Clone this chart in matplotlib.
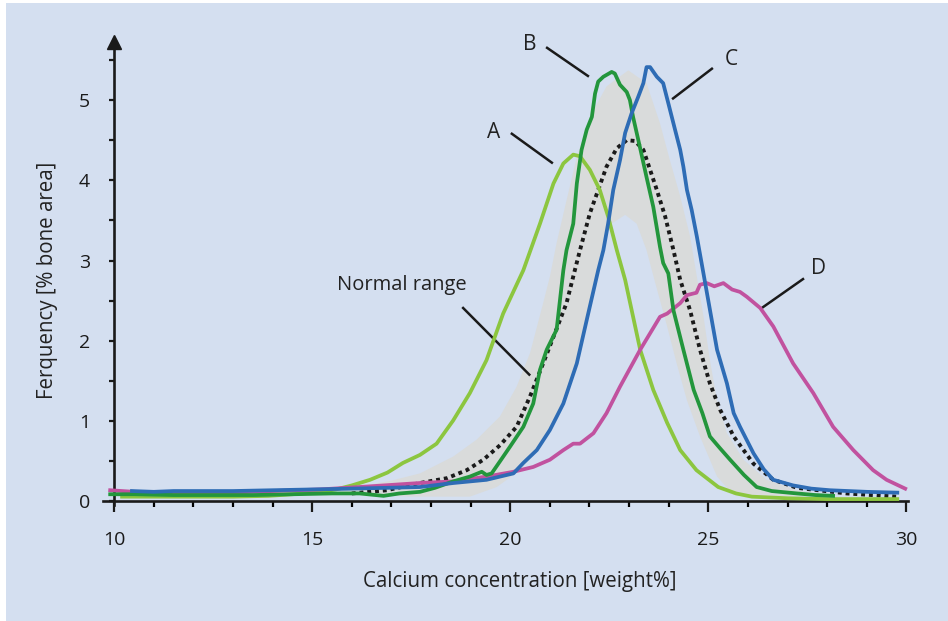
import numpy as np
import matplotlib.pyplot as plt
from matplotlib.patches import Rectangle

plt.rcParams['font.family'] = ['Open Sans', 'DejaVu Sans']

# curve A (light green)
a_x = [10.2, 11, 12, 13, 13.9, 14.5, 15.2, 15.6, 16.0, 16.46, 16.9, 17.29, 17.72, 18.14, 18.56, 18.98,
       19.4, 19.82, 20.33, 20.75, 21.09, 21.34, 21.59, 21.76, 22.01, 22.26, 22.47, 22.69, 22.9,
       23.28, 23.61, 23.96, 24.29, 24.7, 25.25, 25.7, 26.1, 27, 28, 29, 29.77]
a_y = [0.06, 0.06, 0.06, 0.06, 0.07, 0.09, 0.12, 0.15, 0.2, 0.27, 0.36, 0.48, 0.58, 0.72, 1.01, 1.35,
       1.76, 2.34, 2.88, 3.46, 3.96, 4.21, 4.32, 4.30, 4.13, 3.88, 3.55, 3.13, 2.76,
       1.89, 1.39, 0.98, 0.64, 0.39, 0.18, 0.1, 0.06, 0.04, 0.03, 0.03, 0.03]

# curve B (dark green)
b_x = [9.9, 10.5, 11.5, 12.5, 13.5, 14.5, 15.5, 16.2, 16.8, 17.2, 17.72, 18.1, 18.56, 18.98, 19.28,
       19.4, 19.53, 19.74, 19.99, 20.33, 20.58, 20.75, 20.92, 21.17, 21.34, 21.42, 21.59, 21.68,
       21.80, 21.93, 22.06, 22.14, 22.22, 22.35, 22.56, 22.64, 22.77, 22.94, 23.02, 23.1, 23.27,
       23.44, 23.61, 23.78, 23.86, 23.99, 24.12, 24.37, 24.63, 24.85, 25.04, 25.3, 25.55, 25.9,
       26.22, 26.6, 27.24, 27.7, 28.15]
b_y = [0.09, 0.09, 0.08, 0.08, 0.08, 0.09, 0.1, 0.1, 0.07, 0.1, 0.12, 0.17, 0.25, 0.31, 0.37,
       0.33, 0.35, 0.5, 0.68, 0.93, 1.22, 1.64, 1.89, 2.14, 2.88, 3.13, 3.46, 3.96,
       4.38, 4.63, 4.79, 5.08, 5.23, 5.29, 5.35, 5.33, 5.19, 5.10, 5.0, 4.79, 4.42,
       4.04, 3.67, 3.17, 2.97, 2.84, 2.38, 1.89, 1.39, 1.1, 0.81, 0.66, 0.52, 0.33,
       0.18, 0.13, 0.1, 0.08, 0.07]

# curve C (blue)
c_x = [10.45, 11, 11.5, 12, 13, 14, 15, 16, 16.88, 17.72, 18.56, 19.4, 20.08, 20.33, 20.67, 21.0,
       21.34, 21.68, 21.93, 22.22, 22.35, 22.47, 22.6, 22.77, 22.9, 23.06, 23.23, 23.36, 23.44,
       23.53, 23.7, 23.86, 23.99, 24.16, 24.29, 24.37, 24.46, 24.58, 24.71, 24.83, 25.0, 25.22,
       25.47, 25.64, 25.8, 26.14, 26.4, 26.64, 27.14, 27.6, 28.07, 29.0, 29.77]
c_y = [0.13, 0.12, 0.13, 0.13, 0.13, 0.14, 0.15, 0.16, 0.17, 0.18, 0.23, 0.27, 0.35, 0.48, 0.64, 0.89,
       1.22, 1.72, 2.26, 2.88, 3.13, 3.46, 3.88, 4.25, 4.59, 4.83, 5.04, 5.21, 5.41,
       5.41, 5.29, 5.21, 4.96, 4.63, 4.38, 4.17, 3.88, 3.63, 3.3, 2.97, 2.5, 1.89,
       1.47, 1.1, 0.93, 0.6, 0.4, 0.27, 0.2, 0.16, 0.14, 0.12, 0.11]

# curve D (magenta)
d_x = [9.9, 10.5, 11, 12, 13, 14, 15.2, 16.5, 17.72, 18.56, 19.4, 20.08, 20.58, 21.0, 21.34, 21.59,
       21.76, 22.1, 22.43, 22.77, 23.28, 23.78, 23.96, 24.29, 24.46, 24.7, 24.79, 24.96, 25.15,
       25.38, 25.6, 25.8, 25.97, 26.31, 26.64, 27.14, 27.65, 28.15, 28.66, 29.16, 29.5, 29.97]
d_y = [0.14, 0.12, 0.1, 0.1, 0.11, 0.13, 0.15, 0.19, 0.23, 0.25, 0.31, 0.37, 0.43, 0.52, 0.64, 0.72,
       0.72, 0.85, 1.1, 1.43, 1.89, 2.3, 2.34, 2.47, 2.57, 2.6, 2.7, 2.72, 2.68,
       2.72, 2.64, 2.61, 2.55, 2.41, 2.18, 1.72, 1.35, 0.93, 0.64, 0.39, 0.27, 0.16]

# mean of normal range (dotted)
m_x = [16.0, 16.88, 17.72, 18.4, 18.9, 19.32, 19.74, 20.16, 20.5, 20.83, 21.09, 21.42, 21.63, 21.76,
       22.01, 22.22, 22.43, 22.69, 22.94, 23.15, 23.36, 23.53, 23.7, 23.91, 24.12, 24.29, 24.54,
       24.79, 25.04, 25.3, 25.64, 26.14, 26.64, 27.24, 28.5, 29.77]
m_y = [0.1, 0.14, 0.23, 0.29, 0.39, 0.52, 0.70, 0.93, 1.31, 1.72, 2.05, 2.47, 2.88, 3.13,
       3.59, 3.88, 4.17, 4.40, 4.5, 4.49, 4.38, 4.13, 3.88, 3.55, 3.13, 2.76, 2.38,
       1.89, 1.47, 1.14, 0.81, 0.47, 0.27, 0.17, 0.1, 0.06]

# normal range band: outer and inner edge
band_out_x = [15.5, 16.03, 17.0, 17.72, 18.56, 19.15, 19.74, 20.16, 20.5, 20.83, 21.0, 21.17, 21.42,
              21.68, 22.01, 22.43, 22.98, 23.44, 23.78, 24.03, 24.29, 24.54, 24.71, 24.88, 25.04,
              25.22, 25.47, 25.89, 26.47, 27.24, 28.0]
band_out_y = [0.1, 0.17, 0.26, 0.35, 0.56, 0.77, 1.06, 1.43, 1.85, 2.47, 2.8, 3.22, 3.75,
              4.29, 4.79, 5.17, 5.37, 5.21, 4.71, 4.25, 3.8, 3.3, 2.8, 2.3, 1.76,
              1.26, 0.85, 0.52, 0.27, 0.14, 0.08]
band_in_x = [15.5, 17.5, 18.98, 19.66, 20.25, 20.83, 21.25, 21.68, 21.93, 22.18, 22.35, 22.56, 22.9,
             23.19, 23.44, 23.65, 23.96, 24.2, 24.46, 24.79, 25.22, 25.64, 26.5, 28.0]
band_in_y = [0.1, 0.06, 0.06, 0.18, 0.39, 0.72, 1.14, 1.64, 2.2, 2.88, 3.22, 3.46, 3.57,
             3.46, 3.13, 2.74, 2.18, 1.72, 1.26, 0.81, 0.31, 0.08, 0.05, 0.08]

bg = '#d4dff0'
ink = '#1a1a1a'
fig = plt.figure(figsize=(9.48, 6.21), dpi=100, facecolor='white')
fig.patches.append(Rectangle((6 / 948, 0), 1, 1 - 3 / 621, transform=fig.transFigure,
                             facecolor=bg, edgecolor='none', zorder=-10))
ax = fig.add_axes([0.1087, 0.186, 0.8495, 0.746])
ax.set_facecolor('none')

ax.fill(band_out_x + band_in_x[::-1], band_out_y + band_in_y[::-1],
        color='#d9dbdb', lw=0, zorder=1)
ax.plot(m_x, m_y, color=ink, lw=2.8, ls=(0, (1, 1)), zorder=3)
ax.plot(a_x, a_y, color='#8cc63f', lw=2.7, zorder=4)
ax.plot(d_x, d_y, color='#c1529f', lw=2.7, zorder=4)
ax.plot(b_x, b_y, color='#23963c', lw=2.7, zorder=5)
ax.plot(c_x, c_y, color='#2e6cb5', lw=2.7, zorder=6)

# labels with leader lines
ax.plot([20.04, 21.05], [4.58, 4.22], color=ink, lw=1.8)
ax.plot([20.93, 21.96], [5.65, 5.30], color=ink, lw=1.8)
ax.plot([25.09, 24.11], [5.39, 5.02], color=ink, lw=1.8)
ax.plot([27.39, 26.35], [2.77, 2.41], color=ink, lw=1.8)
ax.plot([18.81, 20.48], [2.41, 1.58], color=ink, lw=1.8)
tk = dict(fontsize=15, color='#222222', ha='center', va='center')
ax.text(19.59, 4.59, 'A', **tk)
ax.text(20.5, 5.69, 'B', **tk)
ax.text(25.57, 5.5, 'C', **tk)
ax.text(27.77, 2.9, 'D', **tk)
ax.text(17.27, 2.7, 'Normal range', fontsize=14.5, color='#222222', ha='center', va='center')

ax.set_xlim(9.72, 30.05)
ax.set_ylim(-0.05, 5.72)
for s in ['top', 'right']:
    ax.spines[s].set_visible(False)
ax.spines['left'].set_position(('data', 10))
ax.spines['bottom'].set_position(('data', 0))
for s in ['left', 'bottom']:
    ax.spines[s].set_linewidth(1.9)
    ax.spines[s].set_color(ink)
ax.plot(10, 5.72, marker='^', ms=10, color=ink, clip_on=False)

ax.set_xticks([10, 15, 20, 25, 30])
ax.set_xticks(np.arange(10, 31, 1), minor=True)
ax.set_yticks([0, 1, 2, 3, 4, 5])
ax.set_yticks(np.arange(0.5, 6, 1), minor=True)
ax.tick_params(axis='x', which='major', length=8, width=1.6, pad=13, labelsize=14, colors=ink)
ax.tick_params(axis='x', which='minor', length=4, width=1.6)
ax.tick_params(axis='y', which='both', length=3.5, width=1.6, colors=ink)
ax.tick_params(axis='y', which='major', pad=14, labelsize=14)

fig.text(0.548, 0.064, 'Calcium concentration [weight%]', fontsize=14.8, color='#222222',
         ha='center', va='center')
fig.text(0.0496, 0.549, 'Ferquency [% bone area]', fontsize=14.8, color='#222222',
         ha='center', va='center', rotation=90)

plt.savefig('out.png', dpi=100)
